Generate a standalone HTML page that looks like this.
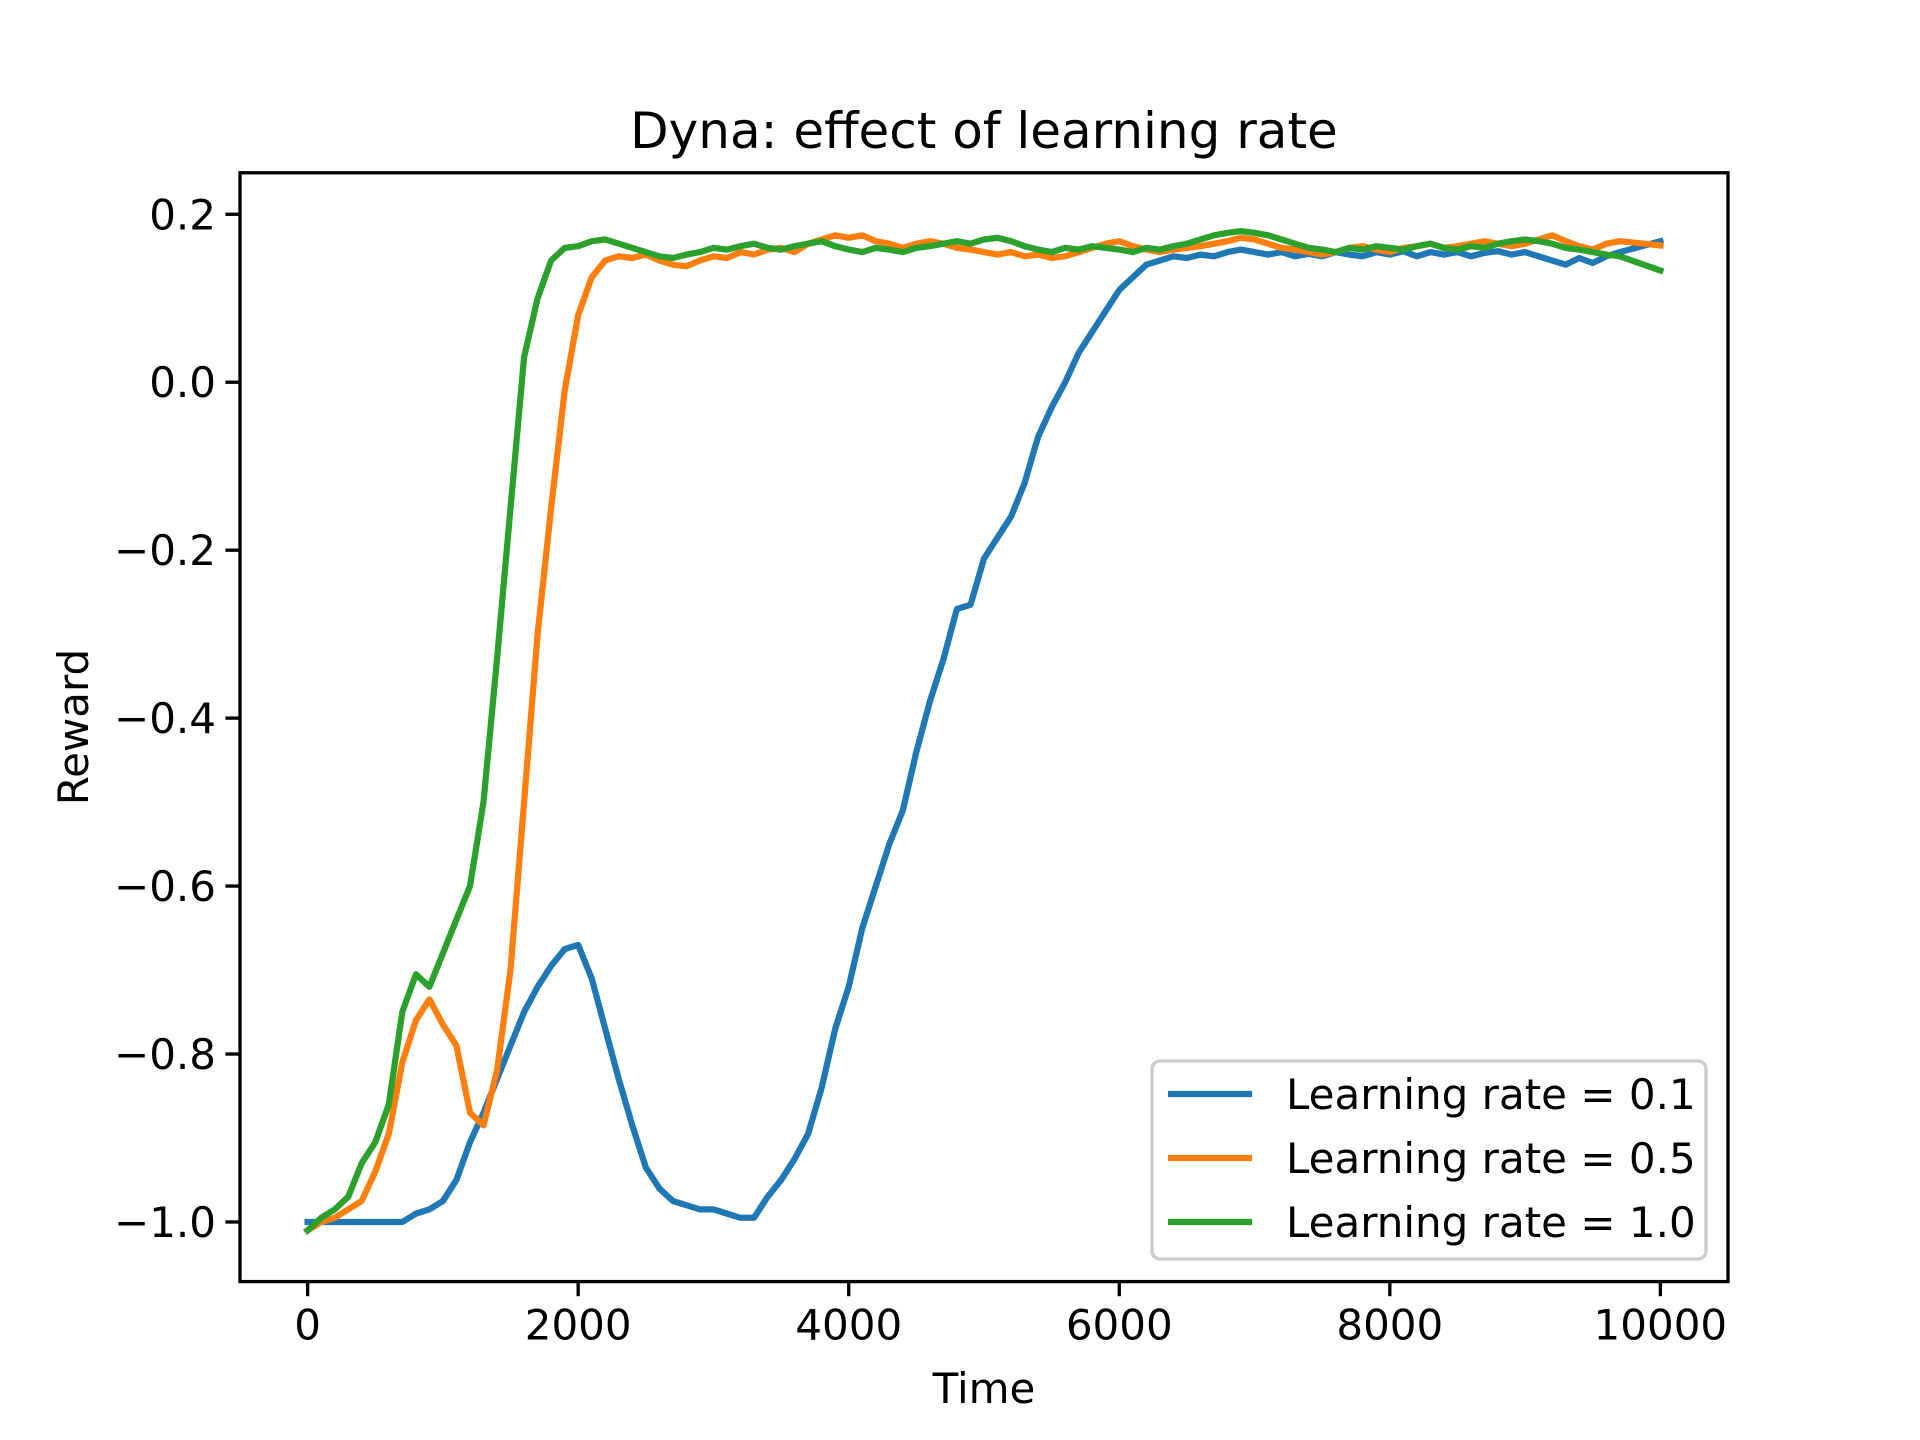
<!DOCTYPE html>
<html><head><meta charset="utf-8"><style>
html,body{margin:0;padding:0;background:#fff;}
svg{display:block;font-family:"DejaVu Sans","Liberation Sans",sans-serif;}
</style></head><body>
<svg id="chart" width="1920" height="1440" viewBox="0 0 1920 1440" xmlns="http://www.w3.org/2000/svg">
<rect width="1920" height="1440" fill="#fff"/>
<text x="984" y="148" font-size="50" text-anchor="middle">Dyna: effect of learning rate</text>
<g id="plot"></g>
<text x="984" y="1403" font-size="42" text-anchor="middle">Time</text>
<text x="0" y="0" font-size="42" text-anchor="middle" transform="translate(88,727) rotate(-90)">Reward</text>
</svg>
<script>
const times = [0,100,200,300,400,500,600,700,800,900,1000,1100,1200,1300,1400,1500,1600,1700,1800,1900,2000,2100,2200,2300,2400,2500,2600,2700,2800,2900,3000,3100,3200,3300,3400,3500,3600,3700,3800,3900,4000,4100,4200,4300,4400,4500,4600,4700,4800,4900,5000,5100,5200,5300,5400,5500,5600,5700,5800,5900,6000,6100,6200,6300,6400,6500,6600,6700,6800,6900,7000,7100,7200,7300,7400,7500,7600,7700,7800,7900,8000,8100,8200,8300,8400,8500,8600,8700,8800,8900,9000,9100,9200,9300,9400,9500,9600,9700,10000];
const lr01 = [-1.0,-1.0,-1.0,-1.0,-1.0,-1.0,-1.0,-1.0,-0.99,-0.985,-0.975,-0.95,-0.905,-0.87,-0.83,-0.79,-0.75,-0.72,-0.695,-0.675,-0.67,-0.71,-0.77,-0.83,-0.885,-0.935,-0.96,-0.975,-0.98,-0.985,-0.985,-0.99,-0.995,-0.995,-0.97,-0.95,-0.925,-0.895,-0.84,-0.77,-0.72,-0.65,-0.6,-0.55,-0.51,-0.44,-0.38,-0.33,-0.27,-0.265,-0.21,-0.185,-0.16,-0.12,-0.065,-0.03,0.0,0.035,0.06,0.085,0.11,0.125,0.14,0.145,0.15,0.148,0.152,0.15,0.155,0.158,0.155,0.152,0.155,0.15,0.153,0.15,0.155,0.152,0.15,0.155,0.152,0.156,0.15,0.155,0.152,0.155,0.15,0.154,0.156,0.152,0.155,0.15,0.145,0.14,0.148,0.142,0.15,0.155,0.168];
const lr05 = [-1.01,-1.0,-0.995,-0.985,-0.975,-0.94,-0.895,-0.81,-0.76,-0.735,-0.765,-0.79,-0.87,-0.885,-0.82,-0.7,-0.5,-0.3,-0.15,-0.01,0.08,0.125,0.145,0.15,0.148,0.152,0.145,0.14,0.138,0.145,0.15,0.148,0.155,0.152,0.158,0.16,0.155,0.165,0.17,0.175,0.172,0.175,0.168,0.165,0.16,0.165,0.168,0.165,0.16,0.158,0.155,0.152,0.155,0.15,0.152,0.148,0.15,0.155,0.16,0.165,0.168,0.162,0.158,0.155,0.158,0.16,0.162,0.165,0.168,0.172,0.17,0.165,0.16,0.158,0.155,0.152,0.155,0.16,0.162,0.158,0.155,0.16,0.162,0.165,0.16,0.162,0.165,0.168,0.165,0.162,0.165,0.17,0.175,0.168,0.162,0.158,0.165,0.168,0.163];
const lr10 = [-1.01,-0.995,-0.985,-0.97,-0.93,-0.905,-0.86,-0.75,-0.705,-0.72,-0.68,-0.64,-0.6,-0.5,-0.33,-0.15,0.03,0.1,0.145,0.16,0.162,0.168,0.17,0.165,0.16,0.155,0.15,0.148,0.152,0.155,0.16,0.158,0.162,0.165,0.16,0.158,0.162,0.165,0.168,0.162,0.158,0.155,0.16,0.158,0.155,0.16,0.162,0.165,0.168,0.165,0.17,0.172,0.168,0.162,0.158,0.155,0.16,0.158,0.162,0.16,0.158,0.155,0.16,0.158,0.162,0.165,0.17,0.175,0.178,0.18,0.178,0.175,0.17,0.165,0.16,0.158,0.155,0.16,0.158,0.162,0.16,0.158,0.162,0.165,0.16,0.158,0.162,0.16,0.165,0.168,0.17,0.168,0.165,0.16,0.158,0.155,0.152,0.15,0.133];
const xTicks = [0,2000,4000,6000,8000,10000];
const yTicks = [0.2,0.0,-0.2,-0.4,-0.6,-0.8,-1.0];
const yTickLabels = ["0.2","0.0","\u22120.2","\u22120.4","\u22120.6","\u22120.8","\u22121.0"];
const seriesNames = ["Learning rate = 0.1","Learning rate = 0.5","Learning rate = 1.0"];

const L=240,R=1728,T=172.8,B=1281.6;
const xMin=-500,xMax=10500,yMin=-1.071,yMax=0.2494;
function sx(v){return L+(v-xMin)/(xMax-xMin)*(R-L);}
function sy(v){return B-(v-yMin)/(yMax-yMin)*(B-T);}
const NS="http://www.w3.org/2000/svg";
const plot=document.getElementById('plot');
function mk(tag,attrs,parent){const e=document.createElementNS(NS,tag);for(const k in attrs)e.setAttribute(k,attrs[k]);(parent||plot).appendChild(e);return e;}

const colors=["#1f77b4","#ff7f0e","#2ca02c"];
const data=[lr01,lr05,lr10];
const keys=["series-lr-0-1","series-lr-0-5","series-lr-1-0"];
data.forEach((arr,i)=>{
  const d=arr.map((v,j)=>(j?'L':'M')+sx(times[j]).toFixed(1)+','+sy(v).toFixed(1)).join('');
  const p=mk('path',{d:d,fill:'none',stroke:colors[i],'stroke-width':6.25,'stroke-linejoin':'round','stroke-linecap':'square'});
  
  
});

const frame=mk('rect',{x:L,y:T,width:R-L,height:B-T,fill:'none',stroke:'#000','stroke-width':3.33});



xTicks.forEach(v=>{
  const t=mk('line',{x1:sx(v),x2:sx(v),y1:B,y2:B+14.6,stroke:'#000','stroke-width':3.33});
  
  
  const lb=mk('text',{x:sx(v),y:B+58,'font-size':42,'text-anchor':'middle'});
  lb.textContent=String(v);
  
  
});
yTicks.forEach((v,i)=>{
  const t=mk('line',{x1:L-14.6,x2:L,y1:sy(v),y2:sy(v),stroke:'#000','stroke-width':3.33});
  
  
  const lb=mk('text',{x:L-24,y:sy(v)+15,'font-size':42,'text-anchor':'end'});
  lb.textContent=yTickLabels[i];
  
  
});

const lg=mk('g',{});


const lbox=mk('rect',{x:1152,y:1061,width:554,height:198,rx:8,fill:'#fff','fill-opacity':0.8,stroke:'#cccccc','stroke-width':3.33},lg);


seriesNames.forEach((n,i)=>{
  const y=1094+i*64;
  const ln=mk('line',{x1:1168,x2:1252,y1:y,y2:y,stroke:colors[i],'stroke-width':6.25},lg);
  
  
  const tx=mk('text',{x:1286,y:y+15,'font-size':42},lg);
  tx.textContent=n;
  
  
});
</script>
</body></html>
